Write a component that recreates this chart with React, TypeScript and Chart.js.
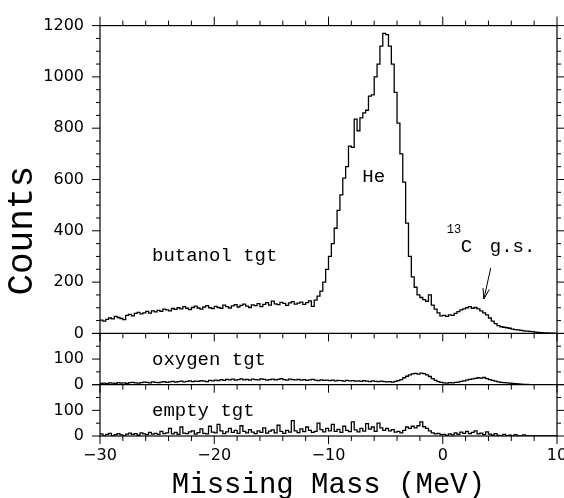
import React, { useEffect, useRef } from 'react';
import { Chart, registerables } from 'chart.js';

Chart.register(...registerables);

// ---- axis ranges / ticks ----
const X_MIN = -30;
const X_MAX = 10;
const X_MAJOR = 10;
const X_MINOR = 2;
const BIN_WIDTH = 0.25;
const Y_TOP_MAX = 1200;
const Y_SUB_MAX = 200;
const Y_MINOR = 50;

// ---- histogram contents (counts per 0.25 MeV bin, from -30 to 10 MeV) ----
const BUTANOL = [
  52, 48, 55, 60, 57, 66, 62, 58, 54, 70, 74, 68, 78, 82, 76, 80, 86, 79, 88, 84,
  90, 86, 95, 92, 88, 97, 94, 100, 96, 104, 98, 93, 101, 106, 99, 95, 103, 108, 100, 97,
  105, 101, 98, 110, 104, 99, 107, 112, 103, 109, 114, 106, 101, 111, 108, 116, 104, 113, 120, 110,
  126, 115, 112, 121, 117, 109, 119, 124, 114, 118, 122, 113, 120, 127, 105, 130, 145, 165, 200, 250,
  300, 350, 410, 480, 540, 605, 650, 730, 725, 835, 790, 840, 860, 870, 925, 930, 1000, 1050, 1120, 1170,
  1165, 1120, 1050, 940, 820, 700, 590, 430, 300, 220, 180, 150, 140, 132, 125, 150, 110, 95, 80, 68,
  70, 66, 72, 70, 78, 85, 92, 96, 100, 104, 98, 101, 96, 88, 80, 72, 60, 48, 38, 30,
  26, 24, 22, 20, 17, 15, 14, 12, 10, 9, 8, 7, 5, 4, 3, 2, 2, 1, 1, 0,
];

const OXYGEN = [
  5, 6, 4, 7, 6, 5, 8, 6, 7, 5, 8, 9, 7, 6, 8, 10, 9, 7, 11, 9,
  8, 10, 12, 9, 11, 13, 10, 12, 14, 11, 13, 15, 12, 14, 13, 16, 14, 12, 17, 15,
  18, 16, 20, 17, 21, 19, 22, 18, 20, 23, 19, 21, 18, 22, 20, 19, 23, 21, 18, 20,
  22, 19, 21, 24, 20, 18, 22, 20, 19, 21, 18, 20, 17, 19, 21, 18, 16, 19, 17, 18,
  16, 18, 15, 17, 16, 14, 17, 15, 16, 14, 15, 13, 16, 14, 12, 15, 13, 12, 14, 12,
  11, 12, 10, 13, 16, 20, 27, 33, 38, 42, 44, 41, 45, 43, 38, 32, 24, 17, 12, 9,
  7, 6, 8, 7, 9, 10, 13, 15, 18, 21, 23, 25, 27, 26, 28, 24, 20, 17, 14, 11,
  9, 8, 7, 6, 5, 4, 3, 2, 1, 1, 0, 0, 0, 0, 0, 0, 0, 0, 0, 0,
];

const EMPTY = [
  8, 0, 6, 10, 0, 5, 9, 4, 0, 7, 11, 6, 9, 3, 12, 8, 5, 14, 7, 10,
  6, 18, 9, 12, 30, 8, 14, 6, 35, 11, 9, 16, 20, 7, 13, 28, 10, 8, 38, 15,
  12, 45, 20, 9, 16, 30, 14, 22, 10, 40, 18, 12, 25, 15, 9, 20, 14, 32, 11, 19,
  24, 12, 42, 18, 10, 22, 15, 60, 20, 13, 28, 17, 35, 22, 14, 18, 50, 25, 16, 30,
  20, 45, 18, 26, 14, 38, 22, 17, 55, 24, 16, 30, 19, 48, 27, 35, 18, 50, 32, 22,
  30, 20, 25, 15, 18, 12, 22, 35, 30, 38, 32, 40, 55, 36, 30, 20, 12, 8, 10, 5,
  6, 2, 8, 4, 12, 6, 15, 10, 18, 9, 14, 20, 8, 11, 5, 16, 7, 3, 9, 2,
  0, 6, 0, 3, 0, 5, 0, 0, 4, 0, 0, 0, 0, 0, 0, 0, 0, 0, 0, 0,
];

// ---- texts ----
const X_TITLE = 'Missing Mass (MeV)';
const Y_TITLE = 'Counts';
const NOTES = [
  { text: 'butanol tgt', axis: 'yTop', x: -25.45, y: 302, size: 19, align: 'left', base: 'middle' },
  { text: 'He', axis: 'yTop', x: -6.05, y: 609, size: 19, align: 'center', base: 'middle' },
  { text: '13', axis: 'yTop', x: 0.35, y: 391, size: 12, align: 'left', base: 'alphabetic' },
  { text: 'C', axis: 'yTop', x: 1.58, y: 318, size: 19, align: 'left', base: 'alphabetic' },
  { text: 'g.s.', axis: 'yTop', x: 4.12, y: 318, size: 19, align: 'left', base: 'alphabetic' },
  { text: 'oxygen tgt', axis: 'yMid', x: -25.45, y: 96, size: 19, align: 'left', base: 'middle' },
  { text: 'empty tgt', axis: 'yBot', x: -25.45, y: 97, size: 19, align: 'left', base: 'middle' },
];
const ARROW = { x1: 4.2, y1: 255, x2: 3.6, y2: 134 };

const MONO = '"Liberation Mono", "DejaVu Sans Mono", monospace';
const SANS = '"DejaVu Sans", sans-serif';

function stepPoints(values: number[]) {
  const pts = values.map((y, i) => ({ x: X_MIN + i * BIN_WIDTH, y }));
  pts.push({ x: X_MIN + values.length * BIN_WIDTH, y: values[values.length - 1] });
  return pts;
}

const fmtX = (v: number) => (v < 0 ? '\u2212' + Math.abs(v) : String(v));

const framePlugin = {
  id: 'frameTicks',
  afterDraw(chart: any) {
    const { ctx, chartArea: a, scales } = chart;
    const xs = scales.x;
    const panels = [
      { s: scales.yTop, max: Y_TOP_MAX, major: 200 },
      { s: scales.yMid, max: Y_SUB_MAX, major: 100 },
      { s: scales.yBot, max: Y_SUB_MAX, major: 100 },
    ];
    const line = (x1: number, y1: number, x2: number, y2: number) => {
      ctx.beginPath();
      ctx.moveTo(x1, y1);
      ctx.lineTo(x2, y2);
      ctx.stroke();
    };
    ctx.save();
    ctx.strokeStyle = '#000';
    ctx.lineWidth = 1.2;
    ctx.strokeRect(a.left, a.top, a.right - a.left, a.bottom - a.top);
    const bases = panels.map((p) => p.s.getPixelForValue(0));
    line(a.left, bases[0], a.right, bases[0]);
    line(a.left, bases[1], a.right, bases[1]);
    ctx.lineWidth = 1;
    for (let v = X_MIN; v <= X_MAX; v += X_MINOR) {
      const px = xs.getPixelForValue(v);
      const major = v % X_MAJOR === 0;
      line(px, a.top, px, a.top - (major ? 9 : 5));
      for (const b of bases) line(px, b, px, b + (major ? 8 : 5));
    }
    for (const p of panels) {
      for (let v = 0; v <= p.max; v += Y_MINOR) {
        const py = p.s.getPixelForValue(v);
        const len = v % p.major === 0 ? 8 : 4;
        line(a.left - len, py, a.left, py);
        line(a.right, py, a.right + len, py);
      }
    }
    // annotations
    ctx.fillStyle = '#000';
    for (const n of NOTES) {
      ctx.font = `${n.size}px ${MONO}`;
      ctx.textAlign = n.align;
      ctx.textBaseline = n.base;
      ctx.fillText(n.text, xs.getPixelForValue(n.x), scales[n.axis].getPixelForValue(n.y));
    }
    const ax1 = xs.getPixelForValue(ARROW.x1);
    const ay1 = scales.yTop.getPixelForValue(ARROW.y1);
    const ax2 = xs.getPixelForValue(ARROW.x2);
    const ay2 = scales.yTop.getPixelForValue(ARROW.y2);
    line(ax1, ay1, ax2, ay2);
    const ang = Math.atan2(ay2 - ay1, ax2 - ax1);
    const hl = 11;
    for (const d of [-0.3, 0.3]) {
      line(ax2, ay2, ax2 - hl * Math.cos(ang + d), ay2 - hl * Math.sin(ang + d));
    }
    ctx.restore();
  },
};

export default function App() {
  const ref = useRef<HTMLCanvasElement>(null);
  useEffect(() => {
    const ds = (data: number[], axis: string) => ({
      data: stepPoints(data),
      xAxisID: 'x',
      yAxisID: axis,
      borderColor: '#000',
      borderWidth: 1.3,
      pointRadius: 0,
      stepped: true,
      fill: false,
    });
    const tickFont = { family: SANS, size: 16 };
    const subAxis = (weight: number) => ({
      type: 'linear',
      position: 'left',
      stack: 'panels',
      stackWeight: weight,
      min: 0,
      max: Y_SUB_MAX,
      grid: { display: false, drawTicks: false },
      border: { display: false },
      ticks: {
        stepSize: 100,
        autoSkip: false,
        font: tickFont,
        color: '#000',
        padding: 16,
        callback: (v: number) => (v === Y_SUB_MAX ? '' : String(v)),
      },
      afterFit: (s: any) => {
        s.width = 60;
      },
    });
    const chart = new Chart(ref.current as HTMLCanvasElement, {
      type: 'line',
      data: {
        datasets: [ds(BUTANOL, 'yTop'), ds(OXYGEN, 'yMid'), ds(EMPTY, 'yBot')] as any,
      },
      options: {
        animation: false,
        responsive: false,
        devicePixelRatio: 1,
        events: [],
        layout: { padding: { top: 24, right: 7, left: 0, bottom: 0 } },
        plugins: { legend: { display: false }, tooltip: { enabled: false } },
        scales: {
          x: {
            type: 'linear',
            position: 'bottom',
            min: X_MIN,
            max: X_MAX,
            grid: { display: false, drawTicks: false },
            border: { display: false },
            ticks: {
              stepSize: X_MAJOR,
              autoSkip: false,
              maxRotation: 0,
              font: tickFont,
              color: '#000',
              padding: 10,
              callback: (v: number) => fmtX(v),
            },
            title: {
              display: true,
              text: X_TITLE,
              color: '#000',
              font: { family: MONO, size: 29, lineHeight: 1 },
              padding: { top: 0, bottom: -2 },
            },
            afterFit: (s: any) => {
              s.height = 62;
              s.paddingLeft = 0;
              s.paddingRight = 0;
            },
          },
          yTitle: {
            type: 'linear',
            position: 'left',
            weight: 1,
            min: 0,
            max: 1,
            grid: { display: false, drawTicks: false },
            border: { display: false },
            ticks: { display: false },
            title: {
              display: true,
              text: Y_TITLE,
              color: '#000',
              font: { family: MONO, size: 36 },
              padding: { top: 1, bottom: 0 },
            },
            afterFit: (s: any) => {
              s.width = 40;
            },
          },
          yBot: subAxis(1),
          yMid: subAxis(1),
          yTop: {
            type: 'linear',
            position: 'left',
            stack: 'panels',
            stackWeight: Y_TOP_MAX / Y_SUB_MAX,
            min: 0,
            max: Y_TOP_MAX,
            grid: { display: false, drawTicks: false },
            border: { display: false },
            ticks: {
              stepSize: 200,
              autoSkip: false,
              font: tickFont,
              color: '#000',
              padding: 16,
              callback: (v: number) => String(v),
            },
            afterFit: (s: any) => {
              s.width = 60;
            },
          },
        } as any,
      },
      plugins: [framePlugin],
    });
    return () => chart.destroy();
  }, []);
  return (
    <div style={{ position: 'absolute', left: 0, top: 0, width: 564, height: 498 }}>
      <canvas ref={ref} width={564} height={498} style={{ display: 'block', width: 564, height: 498 }} />
    </div>
  );
}
